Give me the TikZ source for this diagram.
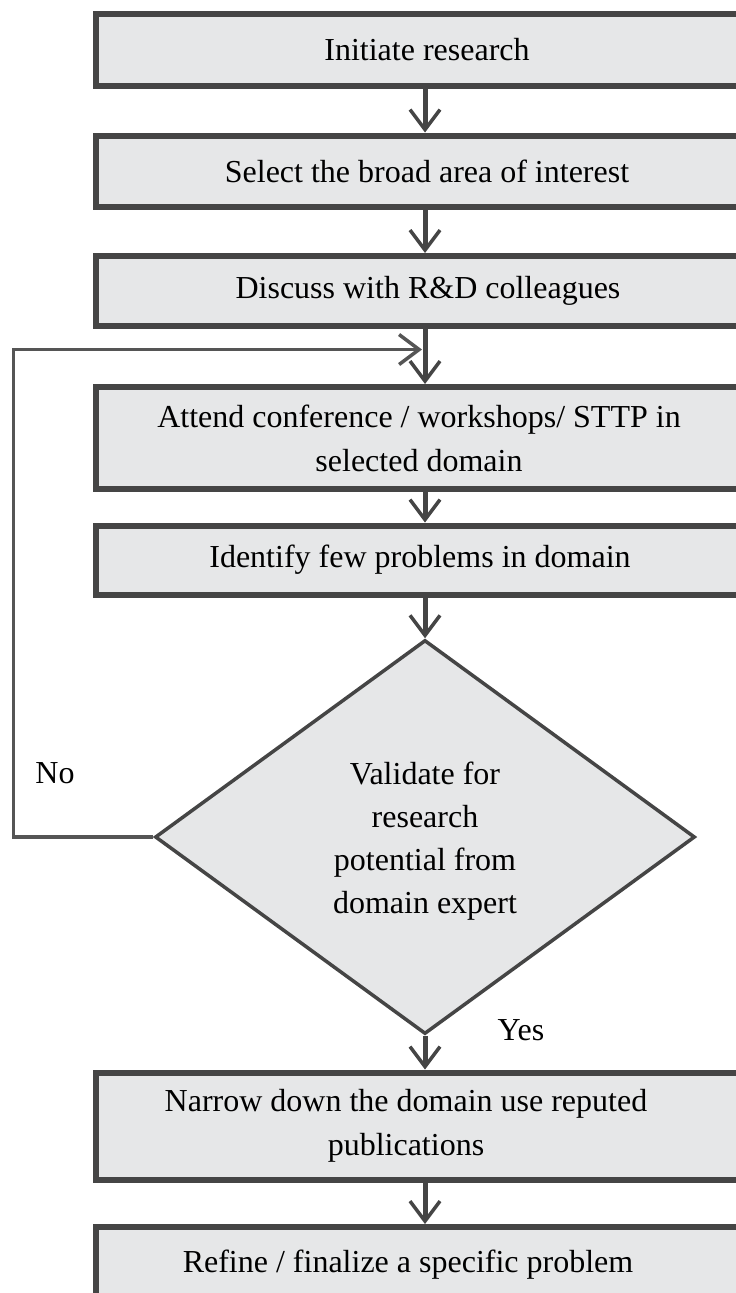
\documentclass[tikz,border=0pt]{standalone}
\usepackage{fontspec}
\setmainfont{Liberation Serif}
\usetikzlibrary{shapes.geometric,arrows.meta}
\definecolor{boxfill}{HTML}{E6E7E8}
\definecolor{edge}{HTML}{454545}
\definecolor{loopc}{HTML}{555555}
\begin{document}
\begin{tikzpicture}[x=1pt,y=-1pt,
  box/.style={draw=edge,fill=boxfill,line width=6pt,minimum width=658pt,inner sep=0pt},
  dia/.style={shape=diamond,draw=edge,fill=boxfill,line width=3.5pt,minimum width=540pt,minimum height=394pt,inner sep=0pt},
  txt/.style={font=\fontsize{32}{44}\selectfont,align=center,inner sep=0pt,text=black},
  conn/.style={draw=edge,line width=5pt,-{Straight Barb[length=20pt,width=30pt,line width=3.5pt]}},
  loopline/.style={draw=loopc,line width=3.5pt,-{Straight Barb[length=20pt,width=30pt,line width=3.5pt]}}]
\useasboundingbox (0,0) rectangle (736,1293);
\clip (0,0) rectangle (736,1293);
\fill[white] (0,0) rectangle (736,1293);

% boxes
\node[box,minimum height=72pt]  (b1) at (425,50) {};
\node[box,minimum height=71pt]  (b2) at (425,171) {};
\node[box,minimum height=70pt]  (b3) at (425,291) {};
\node[box,minimum height=102pt] (b4) at (425,438) {};
\node[box,minimum height=69pt]  (b5) at (425,560) {};
\node[dia] (d) at (425,837) {};
\node[box,minimum height=107pt] (b6) at (425,1126) {};
\node[box,minimum height=70pt]  (b7) at (425,1262) {};

% texts
\node[txt] (t1) at ([xshift=2pt]b1.center) {Initiate research};
\node[txt] (t2) at ([xshift=2pt]b2.center) {Select the broad area of interest};
\node[txt] (t3) at ([xshift=3pt]b3.center) {Discuss with R\&D colleagues};
\node[txt] (t4) at ([xshift=-6pt]b4.center) {Attend conference / workshops/ STTP in\\selected domain};
\node[txt] (t5) at ([xshift=-5pt]b5.center) {Identify few problems in domain};
\node[txt,font=\fontsize{32}{43}\selectfont] (td) at ([yshift=-4pt]d.center) {Validate for\\research\\potential from\\domain expert};
\node[txt] (t6) at ([xshift=-19pt]b6.center) {Narrow down the domain use reputed\\publications};
\node[txt] (t7) at ([xshift=-17pt,yshift=-3pt]b7.center) {Refine / finalize a specific problem};

\node[txt] (no) at (55,773) {No};
\node[txt] (yes) at (521,1030) {Yes};

% connectors
\draw[conn] (b1) -- (b2);
\draw[conn] (b2) -- (b3);
\draw[conn] (b3) -- (b4);
\draw[conn] (b4) -- (b5);
\draw[conn] (b5) -- (d);
\draw[conn] (d) -- (b6);
\draw[conn] (b6) -- (b7);

\coordinate (lft) at (13.5,0);
\coordinate (join) at (422,349.5);
\draw[loopline] (d.west) -| (lft |- join) -- (join);
\end{tikzpicture}
\end{document}
